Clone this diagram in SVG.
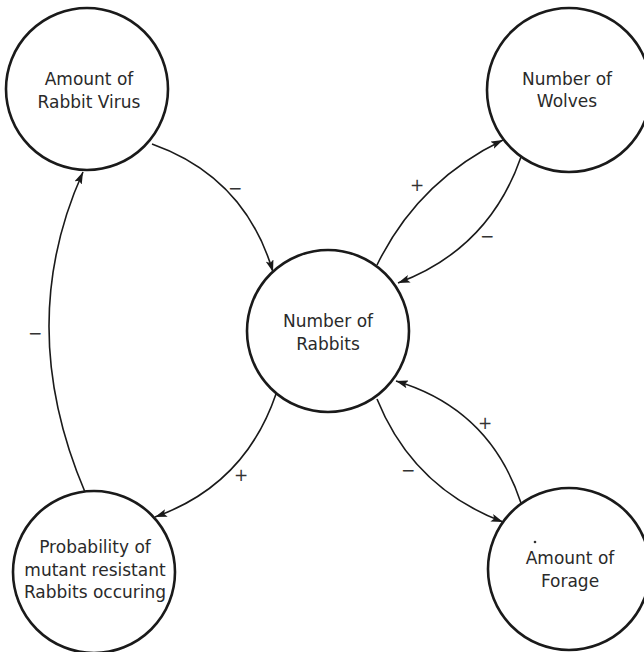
<svg xmlns="http://www.w3.org/2000/svg" width="644" height="652" viewBox="0 0 644 652">
<style>
.node{fill:#fff;stroke:#1a1a1a;stroke-width:2.6}
.lbl{font-family:"DejaVu Sans",sans-serif;font-size:17px;fill:#2a2a2a;text-anchor:middle}
.edge{fill:none;stroke:#1a1a1a;stroke-width:1.6;marker-end:url(#ah)}
.sign{font-family:"DejaVu Sans",sans-serif;font-size:17px;fill:#333;text-anchor:middle}
</style>
<defs>
<marker id="ah" viewBox="0 0 12 8" refX="12" refY="4" markerWidth="12" markerHeight="8" markerUnits="userSpaceOnUse" orient="auto">
<path d="M0,0 L12,4 L0,8 L2.5,4 z" fill="#1a1a1a"/>
</marker>
</defs>
<g id="connectors">
<path class="edge" d="M152,144 Q245,177 273,272"/>
<path class="edge" d="M377,265 Q418,181 503,140"/>
<path class="edge" d="M521,157 Q489,249 398,283"/>
<path class="edge" d="M276,394 Q245,485 155,517"/>
<path class="edge" d="M377,399 Q413,488 503,522"/>
<path class="edge" d="M521,503 Q490,409 396,381"/>
<path class="edge" d="M85,492 Q14,325 83,172"/>
</g>
<g id="signs">
<text class="sign" x="235" y="194">−</text>
<text class="sign" x="417" y="191">+</text>
<text class="sign" x="487" y="242">−</text>
<text class="sign" x="241" y="481">+</text>
<text class="sign" x="408" y="476">−</text>
<text class="sign" x="485" y="429">+</text>
<text class="sign" x="35" y="339">−</text>
</g>
<g id="node-virus">
<circle class="node" cx="87" cy="89" r="81"/>
<text class="lbl" x="89" y="85">Amount of</text>
<text class="lbl" x="89" y="108">Rabbit Virus</text>
</g>
<g id="node-wolves">
<circle class="node" cx="569" cy="90" r="82"/>
<text class="lbl" x="567" y="85">Number of</text>
<text class="lbl" x="567" y="107">Wolves</text>
</g>
<g id="node-rabbits">
<circle class="node" cx="328" cy="331" r="81"/>
<text class="lbl" x="328" y="327">Number of</text>
<text class="lbl" x="328" y="350">Rabbits</text>
</g>
<g id="node-probability">
<circle class="node" cx="94" cy="572" r="81"/>
<text class="lbl" x="95" y="553">Probability of</text>
<text class="lbl" x="95" y="576">mutant resistant</text>
<text class="lbl" x="95" y="598">Rabbits occuring</text>
</g>
<g id="node-forage">
<circle class="node" cx="569" cy="569" r="81"/>
<text class="lbl" x="570" y="564">Amount of</text>
<text class="lbl" x="570" y="587">Forage</text>
<circle cx="535" cy="542" r="1.3" fill="#333"/>
</g>
</svg>
